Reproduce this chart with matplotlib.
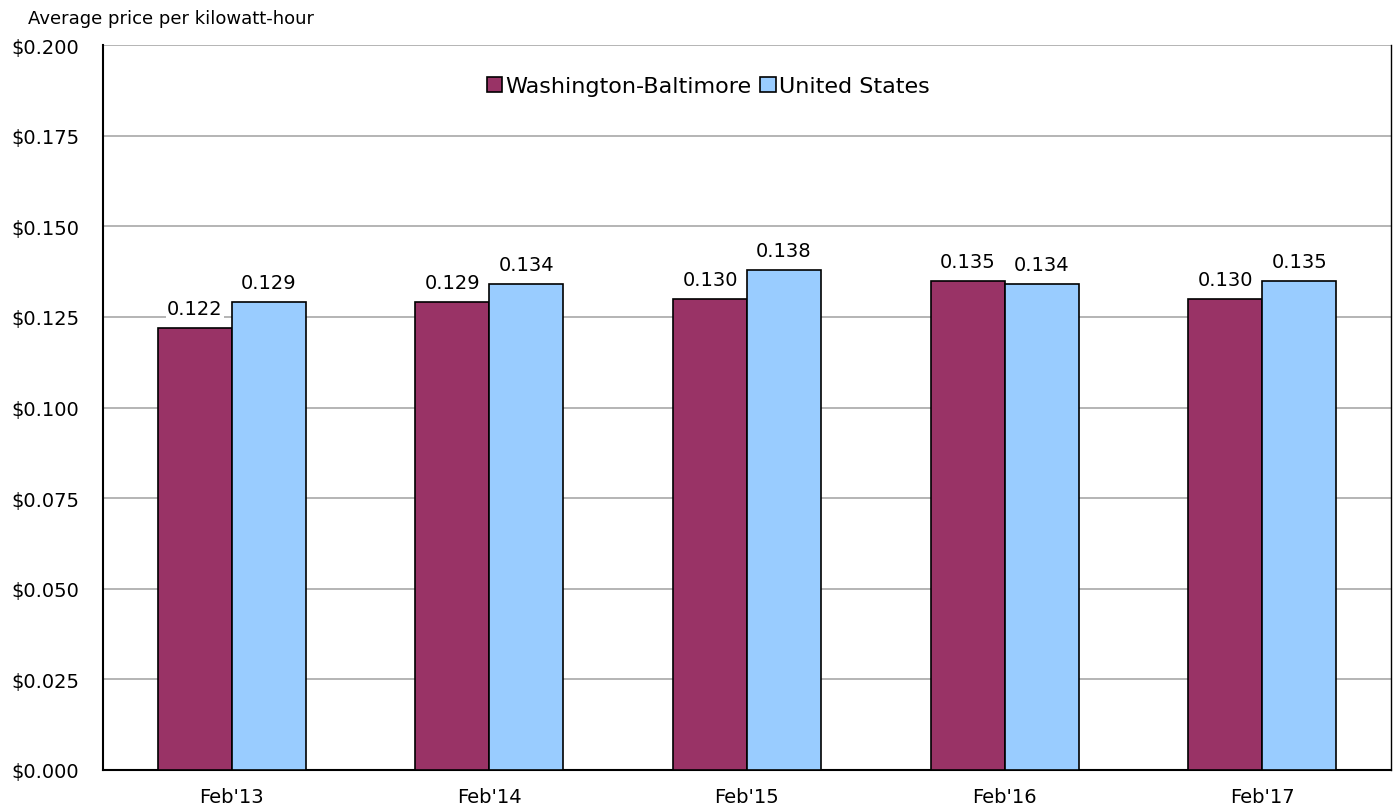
import numpy as np
import matplotlib.pyplot as plt
from matplotlib.ticker import FuncFormatter

plt.rcParams['font.family'] = ['DejaVu Sans']

# average electricity price per kWh
periods = ["Feb'13", "Feb'14", "Feb'15", "Feb'16", "Feb'17"]
wash_balt = [0.122, 0.129, 0.130, 0.135, 0.130]
us_avg = [0.129, 0.134, 0.138, 0.134, 0.135]

fig = plt.figure(figsize=(13.97, 8.12), dpi=100)
ax = fig.add_axes([0.0737, 0.0505, 0.9220, 0.8928])

x = np.arange(len(periods))
w = 0.287
b1 = ax.bar(x - w / 2, wash_balt, w, color="#993366", edgecolor="black",
            linewidth=1.2, label="Washington-Baltimore", zorder=3)
b2 = ax.bar(x + w / 2, us_avg, w, color="#99CCFF", edgecolor="black",
            linewidth=1.2, label="United States", zorder=3)

# value labels above bars
for bars, vals in ((b1, wash_balt), (b2, us_avg)):
    for rect, v in zip(bars, vals):
        ax.text(rect.get_x() + rect.get_width() / 2, v + 0.0028, f"{v:.3f}",
                ha="center", va="bottom", fontsize=14, zorder=4,
                bbox=dict(facecolor="white", edgecolor="none", pad=1))

ax.set_xlim(-0.5, len(periods) - 0.5)
ax.set_ylim(0, 0.2)
ax.set_yticks(np.arange(0, 0.201, 0.025))
ax.yaxis.set_major_formatter(FuncFormatter(lambda v, p: f"${v:.3f}"))
ax.set_xticks(x)
ax.set_xticklabels(periods)
ax.tick_params(axis="both", length=0, labelsize=14)
ax.tick_params(axis="x", pad=12)
ax.tick_params(axis="y", pad=17)

ax.grid(axis="y", color="#a8a8a8", linewidth=1.2, zorder=0)
ax.spines["top"].set_visible(False)
ax.spines["left"].set_linewidth(1.5)
ax.spines["bottom"].set_linewidth(1.5)
ax.spines["right"].set_linewidth(1.0)

ax.legend(loc="center", bbox_to_anchor=(0.47, 0.943), ncol=2,
          frameon=False, fontsize=16, handlelength=0.7, handleheight=0.7,
          handletextpad=0.15, columnspacing=0.4)

fig.text(0.02, 0.988, "Average price per kilowatt-hour", fontsize=13,
         ha="left", va="top")

plt.savefig("out.png")
